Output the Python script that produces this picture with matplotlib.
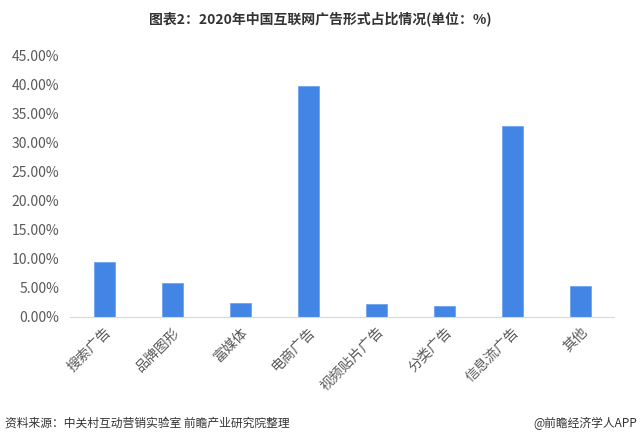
import matplotlib.pyplot as plt
from matplotlib.ticker import FuncFormatter

plt.rcParams['font.family'] = ['Noto Sans CJK SC', 'DejaVu Sans']

# data
categories = ["搜索广告", "品牌图形", "富媒体", "电商广告", "视频贴片广告", "分类广告", "信息流广告", "其他"]
shares = [9.4, 5.8, 2.4, 39.8, 2.1, 1.8, 32.9, 5.3]
yticks = [0, 5, 10, 15, 20, 25, 30, 35, 40, 45]

fig = plt.figure(figsize=(6.4, 4.44), dpi=100)
ax = fig.add_axes([0.11, 0.287, 0.85, 0.588])

ax.bar(range(len(categories)), shares, width=0.31, color='#4285e4', edgecolor='#6fa3ee', linewidth=0.6)

ax.set_xlim(-0.5, len(categories) - 0.5)
ax.set_ylim(0, 45)
ax.set_yticks(yticks)
ax.yaxis.set_major_formatter(FuncFormatter(lambda v, p: "%.2f%%" % v))
ax.set_xticks(range(len(categories)))
ax.set_xticklabels(categories, rotation=45, ha='right', rotation_mode='anchor')

for s in ['top', 'right', 'left']:
    ax.spines[s].set_visible(False)
ax.spines['bottom'].set_color('#d9d9d9')
ax.tick_params(axis='both', length=0, colors='#595959', labelsize=10)
ax.tick_params(axis='y', pad=8)
ax.tick_params(axis='x', pad=6)

fig.text(0.5, 0.958, "图表2：2020年中国互联网广告形式占比情况(单位：%)", ha='center', va='center',
         fontsize=10, fontweight='bold', color='#333333')
fig.text(0.008, 0.047, "资料来源：中关村互动营销实验室 前瞻产业研究院整理", ha='left', va='center',
         fontsize=8.5, color='#333333')
fig.text(0.995, 0.047, "@前瞻经济学人APP", ha='right', va='center', fontsize=8.5, color='#333333')

fig.savefig("out.png", dpi=100, facecolor='white')
